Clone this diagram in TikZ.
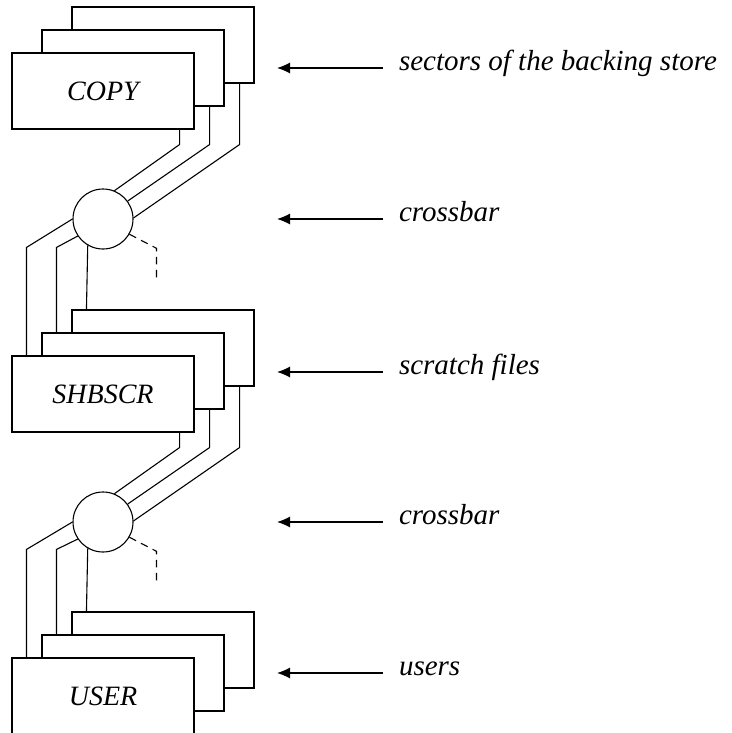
\documentclass[tikz,border=0pt]{standalone}
\usepackage{fontspec}
\setmainfont{Liberation Serif}
\usepackage{tikz}
\usetikzlibrary{arrows.meta, positioning, calc}

\begin{document}
\begin{tikzpicture}[x=1pt, y=-1pt, line width=1.1pt,
  card/.style={draw, fill=white, minimum width=182pt, minimum height=76pt, inner sep=0pt,
    font=\itshape\fontsize{28}{34}\selectfont},
  xbar/.style={draw, fill=white, circle, minimum size=60pt, inner sep=0pt},
  lbl/.style={anchor=west, inner sep=8pt, outer sep=8pt, text height=1ex, text depth=0pt,
    font=\itshape\fontsize{29}{34}\selectfont},
  tag/.style={-{Latex[length=13pt,width=11pt]}}]

  \clip (0,0) rectangle (731,733);

  % Stacks of boxes
  \foreach \nm/\txt/\y in {copy/COPY/91, scr/SHBSCR/394, user/USER/696}{
    \node[card] (\nm3) at (163,{\y-46}) {};
    \node[card] (\nm2) at (133,{\y-23}) {};
    \node[card] (\nm1) at (103,\y) {\txt};
  }

  % Crossbars
  \node[xbar] (xb1) at (103,219) {};
  \node[xbar] (xb2) at (103,522) {};

  % Lines into the crossbars
  \foreach \tp/\xb in {copy/xb1, scr/xb2}{
    \draw ([xshift=-15pt]\tp1.south east) -- ++(0,15) -- (\xb.68);
    \draw ([xshift=-15pt]\tp2.south east) -- ++(0,38) -- (\xb.36);
    \draw ([xshift=-15pt]\tp3.south east) -- ++(0,61) -- (\xb.2);
  }

  % Lines out of the crossbars
  \foreach \xb/\bt in {xb1/scr, xb2/user}{
    \draw ([xshift=15pt]\bt1.north west) -- ++(0,-108) -- (\xb.180);
    \draw ([xshift=15pt]\bt2.north west) -- ++(0,-85) -- (\xb.214);
    \draw ([xshift=15pt]\bt3.north west) -- (\xb.240);
    \draw[dash pattern=on 7.5pt off 5.5pt] (\xb.330) -- ++(27,14) -- ++(0,34) coordinate (\xb t);
  }

  % Labels
  \foreach \y/\txt in {68/sectors of the backing store, 219/crossbar, 372/scratch files,
                       522/crossbar, 673/users}{
    \node[lbl] (l\y) at (383,\y) {\txt};
    \coordinate (t\y) at (277,\y);
    \draw[tag] (l\y.west) -- (t\y);
  }

\end{tikzpicture}
\end{document}
